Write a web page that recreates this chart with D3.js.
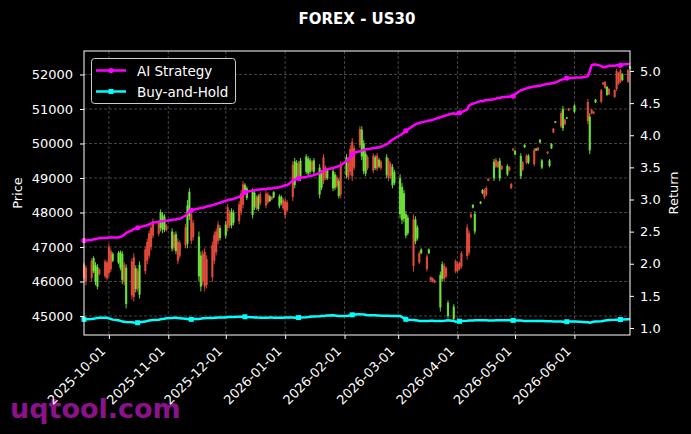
<!DOCTYPE html>
<html>
<head>
<meta charset="utf-8">
<script src="https://cdn.jsdelivr.net/npm/d3@7"></script>
<style>
  body { margin: 0; background: #000; }
  svg text { font-family: "DejaVu Sans", sans-serif; }
</style>
</head>
<body>
<div id="chart"></div>
<script>
// some constants for the page
var width = 691;
var height = 434;
var plotLeft = 84, plotRight = 630, plotTop = 51, plotBottom = 335;

// trading days run from Sep 18 2025 to Jun 30 2026 (weekdays)
var firstDay = '2025-09-18';
var lastDay = '2026-06-30';
var tickDates = ['2025-10-01', '2025-11-01', '2025-12-01', '2026-01-01', '2026-02-01',
                 '2026-03-01', '2026-04-01', '2026-05-01', '2026-06-01'];
var priceTicks = [45000, 46000, 47000, 48000, 49000, 50000, 51000, 52000];
var returnTicks = [1.0, 1.5, 2.0, 2.5, 3.0, 3.5, 4.0, 4.5, 5.0];

// candles (null = no candle drawn)
var priceOpen = [46500,46400,46600,46300,46000,45850,46350,46580,46550,47000,
  46880,46600,46550,46400,46050,46480,45350,46580,46700,45780,
  46300,45620,46930,47150,47400,47560,47750,47700,47550,47500,
  47500,47620,46950,47350,46880,47150,47120,47570,47100,47900,
  47950,47700,46150,45850,46800,46850,46650,47050,47350,47450,
  47650,47260,47330,48150,47980,47620,47700,48240,48550,48820,
  48580,48420,47930,48150,48430,48100,48530,48550,48530,48330,
  48450,48440,48180,48260,48360,48330,48300,49380,48800,49020,
  49420,49000,49180,49130,49180,49470,49180,48520,48720,49600,
  49310,48990,48700,48720,49020,48480,49380,49080,49440,49850,
  50050,49870,50420,49620,49200,49130,49600,49650,49290,49650,
  49330,49470,49080,49500,49400,48790,48850,47950,47780,47820,
  47330,47400,47800,47160,47250,46820,46820,46720,46820,46120,
  46090,46030,45250,46080,46450,46390,45000,44910,46590,46510,
  46540,46820,47560,47400,47950,48140,47450,48260,48560,48650,
  48710,48980,48990,49530,49460,48990,49350,49100,49320,48830,
  49850,49680,49050,49450,49890,49650,49440,49810,49800,49880,
  50030,49300,49760,49350,49860,50430,50600,50880,50440,50690,
  50720,51010,50920,null,null,null,null,51200,49800,50980,
  50920,51190,51540,51770,51780,51410,51580,51550,52100,52040,
  52120,51840,52120,52170];
var priceHigh = [46560,46470,46670,46730,46560,46500,46380,46640,46610,47080,
  46960,46850,46880,46900,46880,46560,46500,46670,46820,46470,
  46380,46580,47020,47250,47480,47660,47830,47780,48090,48010,
  47950,47660,47540,47430,47450,47250,47190,47660,48360,48700,
  48040,47780,47450,46870,46900,46960,46760,47160,47450,47540,
  47750,47630,47750,48240,48070,48120,48070,48330,48650,48910,
  48850,48760,48700,48650,48500,48530,48590,48620,48590,48500,
  48470,48620,48530,48500,48410,48410,48360,49490,49580,49520,
  49490,49580,49690,49630,49580,49520,49580,49400,49230,49690,
  49370,49290,49290,49170,49080,48990,49490,49690,49520,49950,
  50160,49950,50500,50500,50100,49780,49660,49720,49660,49720,
  49580,49520,49690,49580,49460,49400,49230,49110,48850,48650,
  48040,47920,47950,47890,47630,46880,46960,46790,46960,46150,
  46120,46060,46290,46580,46530,46440,45450,45340,46640,46560,
  46580,46880,47660,47480,47980,48240,48040,48330,48680,48700,
  48760,48990,49550,49580,49490,49580,49370,49400,49340,48850,
  49870,49810,49720,49490,49980,49690,49690,49870,49870,49900,
  50130,49550,49780,49550,50010,50450,50650,50940,51090,50710,
  50770,51030,51140,null,null,null,null,51290,50880,51000,
  50940,51290,51580,51780,51810,51670,51610,51580,52160,52070,
  52160,52040,52160,52250];
var priceLow = [46030,45890,46000,46240,45890,45770,46180,46090,46030,46150,
  46270,46560,46500,46320,45920,45890,45220,45480,45420,45680,
  45710,45510,46210,46500,46670,46900,47250,47310,47450,47400,
  47430,47450,46870,46900,46790,46500,46670,46960,46960,47780,
  47080,47190,46000,45710,45890,45710,45800,46000,46500,46760,
  47080,47190,47250,47450,47540,47540,47630,47660,47920,48120,
  48530,48360,47830,48070,48070,48040,48210,48120,48240,48300,
  48360,48410,48120,48210,48070,47830,48010,48330,48700,48940,
  48990,48910,49110,49050,49110,49170,49110,48410,48650,48820,
  48940,48940,48620,48650,48700,48410,48410,48990,48940,49080,
  48910,49230,49870,49520,49110,49050,49230,49140,49230,49200,
  49290,49230,48990,48910,48990,48700,48790,47830,47660,47720,
  47250,47340,46290,47080,47190,46500,46790,46290,46790,46000,
  45970,45950,45130,46000,46000,46090,44930,44840,46240,46270,
  46320,46380,46640,46760,47830,48120,47370,48240,48530,48390,
  48470,48910,48910,49290,49290,48910,49230,49050,49200,48680,
  49780,49660,48970,49200,49870,49400,49400,49340,49780,49780,
  50010,49260,49690,49310,49840,50300,50590,50450,50360,50530,
  50710,50940,50880,null,null,null,null,50560,49690,50850,
  50850,51170,51170,51700,51580,51380,51400,51320,51520,51700,
  51750,51810,51750,52160];
var priceClose = [46100,46000,46100,46680,46480,46420,46220,46150,46100,46250,
  46350,46800,46830,46850,46800,45980,46400,45600,45550,46380,
  45800,46480,46300,46600,46750,47000,47330,47380,48000,47920,
  47880,47490,47450,46980,47370,46600,46750,47050,48200,48600,
  47180,47280,47300,46750,46000,45850,45900,46120,46600,46850,
  47180,47550,47650,47550,47620,48030,47990,47750,48020,48220,
  48800,48700,48600,48570,48130,48470,48270,48200,48300,48470,
  48380,48590,48470,48450,48120,47920,48060,48450,49480,49440,
  49070,49500,49620,49560,49510,49220,49510,49300,49150,48920,
  49000,49230,49200,49100,48760,48920,48520,49600,49020,49180,
  49050,49300,49950,50400,50000,49700,49290,49220,49600,49270,
  49530,49280,49600,49000,49060,49320,49170,48990,48740,48560,
  47950,47850,46450,47800,47570,46550,46930,46360,46930,46030,
  46000,45970,46190,46500,46080,46140,45380,45270,46290,46310,
  46360,46440,46740,46840,47860,48220,47960,48310,48650,48440,
  48520,48920,49470,49330,49320,49500,49250,49350,49220,48700,
  49800,49790,49640,49240,49960,49440,49650,49400,49850,49800,
  50110,49510,49710,49510,49990,50320,50640,50500,51000,50560,
  50760,50960,51100,null,null,null,null,50650,50780,50870,
  50870,51270,51210,51710,51610,51640,51430,51350,51580,51730,
  51790,52010,51790,52240];

// strategy returns (right axis)
var aiReturn = [2.36,2.36,2.37,2.38,2.38,2.39,2.40,2.40,2.40,2.41,
  2.41,2.41,2.41,2.42,2.43,2.45,2.48,2.52,2.54,2.55,
  2.56,2.57,2.59,2.60,2.61,2.63,2.64,2.65,2.66,2.66,
  2.67,2.67,2.68,2.69,2.69,2.70,2.70,2.75,2.78,2.82,
  2.83,2.84,2.86,2.87,2.87,2.88,2.89,2.91,2.92,2.93,
  2.94,2.95,2.98,2.99,3.00,3.00,3.01,3.04,3.06,3.10,
  3.11,3.12,3.14,3.14,3.15,3.15,3.16,3.16,3.17,3.17,
  3.17,3.18,3.19,3.20,3.21,3.22,3.22,3.29,3.31,3.32,
  3.33,3.34,3.35,3.36,3.37,3.37,3.38,3.41,3.43,3.45,
  3.46,3.47,3.49,3.50,3.51,3.52,3.53,3.60,3.63,3.66,
  3.70,3.73,3.75,3.76,3.77,3.78,3.78,3.80,3.80,3.81,
  3.81,3.82,3.86,3.88,3.91,3.93,3.95,4.00,4.02,4.04,
  4.07,4.09,4.15,4.17,4.18,4.19,4.20,4.22,4.23,4.23,
  4.24,4.25,4.28,4.29,4.30,4.31,4.32,4.34,4.33,4.34,
  4.35,4.36,4.40,4.46,4.48,4.49,4.50,4.53,4.53,4.54,
  4.55,4.55,4.56,4.57,4.58,4.58,4.59,4.60,4.60,4.61,
  4.61,4.64,4.70,4.71,4.72,4.73,4.74,4.76,4.76,4.77,
  4.77,4.78,4.80,4.80,4.81,4.81,4.82,4.86,4.87,4.88,
  4.89,4.89,4.89,4.90,4.90,4.90,4.90,4.92,5.00,5.09,
  5.10,5.10,5.08,5.06,5.06,5.07,5.08,5.08,5.09,5.09,
  5.09,5.10,5.11,5.11];
var holdReturn = [1.135,1.136,1.14,1.145,1.15,1.155,1.158,1.16,1.158,1.15,
  1.14,1.13,1.12,1.11,1.10,1.098,1.095,1.09,1.085,1.082,
  1.082,1.09,1.10,1.11,1.115,1.12,1.125,1.13,1.135,1.14,
  1.145,1.15,1.155,1.16,1.16,1.155,1.15,1.145,1.14,1.135,
  1.135,1.14,1.14,1.145,1.15,1.15,1.155,1.155,1.16,1.16,
  1.165,1.165,1.165,1.17,1.17,1.17,1.172,1.175,1.176,1.176,
  1.175,1.17,1.168,1.165,1.165,1.162,1.16,1.16,1.16,1.162,
  1.162,1.16,1.16,1.16,1.16,1.162,1.162,1.162,1.16,1.16,
  1.162,1.165,1.168,1.17,1.175,1.178,1.18,1.182,1.185,1.188,
  1.19,1.195,1.198,1.195,1.19,1.188,1.187,1.187,1.19,1.198,
  1.205,1.21,1.213,1.212,1.21,1.205,1.20,1.20,1.198,1.195,
  1.195,1.192,1.19,1.19,1.188,1.188,1.187,1.187,1.17,1.15,
  1.135,1.13,1.125,1.12,1.115,1.11,1.11,1.11,1.11,1.112,
  1.112,1.11,1.11,1.11,1.112,1.115,1.12,1.11,1.098,1.10,
  1.105,1.11,1.112,1.115,1.115,1.118,1.12,1.12,1.12,1.12,
  1.12,1.118,1.118,1.12,1.12,1.12,1.12,1.12,1.12,1.118,
  1.118,1.118,1.115,1.112,1.11,1.11,1.11,1.109,1.109,1.108,
  1.108,1.108,1.106,1.105,1.104,1.103,1.102,1.10,1.098,1.098,
  1.098,1.10,1.10,1.10,1.098,1.097,1.095,1.09,1.082,1.09,
  1.098,1.10,1.105,1.11,1.115,1.12,1.125,1.128,1.13,1.13,
  1.132,1.133,1.135,1.135];

var markerEvery = 20;

// weekday calendar for the series
var parseDay = d3.utcParse('%Y-%m-%d');
var days = d3.utcDays(parseDay(firstDay), d3.utcDay.offset(parseDay(lastDay), 1))
    .filter(d => d.getUTCDay() !== 0 && d.getUTCDay() !== 6);

var candles = days.map((d, i) => ({date: d, o: priceOpen[i], h: priceHigh[i], l: priceLow[i], c: priceClose[i]}))
    .filter(d => d.o !== null && d.o !== undefined);
var aiData = days.map((d, i) => ({date: d, v: aiReturn[i], i: i}));
var holdData = days.map((d, i) => ({date: d, v: holdReturn[i], i: i}));

// scales
var x = d3.scaleUtc()
    .domain([parseDay(firstDay), parseDay(lastDay)])
    .range([plotLeft, plotRight]);
var yPrice = d3.scaleLinear()
    .domain([44449, 52681])
    .range([plotBottom, plotTop]);
var yReturn = d3.scaleLinear()
    .domain([0.891, 5.311])
    .range([plotBottom, plotTop]);

var svg = d3.select('#chart')
    .append('svg')
    .attr('width', width)
    .attr('height', height);

svg.append('rect')
    .attr('width', width)
    .attr('height', height)
    .attr('fill', '#000');

// watermark behind the tick labels
svg.append('text')
    .attr('x', 10)
    .attr('y', 418)
    .attr('fill', '#8b128b')
    .style('font-size', '27px')
    .style('font-weight', 'bold')
    .text('uqtool.com');

// grid
var grid = svg.append('g');
grid.selectAll('line.h')
    .data(priceTicks)
    .enter()
    .append('line')
    .attr('x1', plotLeft).attr('x2', plotRight)
    .attr('y1', d => yPrice(d)).attr('y2', d => yPrice(d))
    .attr('stroke', '#555')
    .attr('stroke-width', 0.8)
    .attr('stroke-dasharray', '3,2');
grid.selectAll('line.v')
    .data(tickDates)
    .enter()
    .append('line')
    .attr('x1', d => x(parseDay(d))).attr('x2', d => x(parseDay(d)))
    .attr('y1', plotTop).attr('y2', plotBottom)
    .attr('stroke', '#555')
    .attr('stroke-width', 0.8)
    .attr('stroke-dasharray', '3,2');

// candles
var upColor = '#72ee3a';
var downColor = '#ec4f3f';
var candleGroup = svg.append('g');
candleGroup.selectAll('line')
    .data(candles)
    .enter()
    .append('line')
    .attr('x1', d => x(d.date)).attr('x2', d => x(d.date))
    .attr('y1', d => yPrice(d.h)).attr('y2', d => yPrice(d.l))
    .attr('stroke', d => d.c >= d.o ? upColor : downColor)
    .attr('stroke-width', 1)
    .attr('opacity', 0.9);
candleGroup.selectAll('rect')
    .data(candles)
    .enter()
    .append('rect')
    .attr('x', d => x(d.date) - 1.1)
    .attr('width', 2.2)
    .attr('y', d => yPrice(Math.max(d.o, d.c)))
    .attr('height', d => Math.max(1, Math.abs(yPrice(d.o) - yPrice(d.c))))
    .attr('fill', d => d.c >= d.o ? upColor : downColor)
    .attr('opacity', 0.85);

// return lines
var returnLine = d3.line().x(d => x(d.date)).y(d => yReturn(d.v));

svg.append('path')
    .datum(holdData)
    .attr('d', returnLine)
    .attr('fill', 'none')
    .attr('stroke', '#00ffff')
    .attr('stroke-width', 2.5);
svg.selectAll('rect.holdMark')
    .data(holdData.filter(d => d.i % markerEvery === 0))
    .enter()
    .append('rect')
    .attr('x', d => x(d.date) - 2.5)
    .attr('y', d => yReturn(d.v) - 2.5)
    .attr('width', 5)
    .attr('height', 5)
    .attr('fill', '#00ffff');

svg.append('path')
    .datum(aiData)
    .attr('d', returnLine)
    .attr('fill', 'none')
    .attr('stroke', '#ff00ff')
    .attr('stroke-width', 2.5);
svg.selectAll('circle.aiMark')
    .data(aiData.filter(d => d.i % markerEvery === 0))
    .enter()
    .append('circle')
    .attr('cx', d => x(d.date))
    .attr('cy', d => yReturn(d.v))
    .attr('r', 2.6)
    .attr('fill', '#ff00ff');

// frame
svg.append('rect')
    .attr('x', plotLeft)
    .attr('y', plotTop)
    .attr('width', plotRight - plotLeft)
    .attr('height', plotBottom - plotTop)
    .attr('fill', 'none')
    .attr('stroke', '#fff')
    .attr('stroke-width', 1);

// axes
var leftAxis = svg.append('g')
    .attr('transform', 'translate(' + plotLeft + ',0)')
    .call(d3.axisLeft(yPrice).tickValues(priceTicks).tickSize(4).tickPadding(7).tickFormat(d3.format('d')));
var rightAxis = svg.append('g')
    .attr('transform', 'translate(' + plotRight + ',0)')
    .call(d3.axisRight(yReturn).tickValues(returnTicks).tickSize(4).tickPadding(6).tickFormat(d3.format('.1f')));
var bottomAxis = svg.append('g')
    .attr('transform', 'translate(0,' + plotBottom + ')')
    .call(d3.axisBottom(x).tickValues(tickDates.map(parseDay)).tickSize(4).tickFormat(d3.utcFormat('%Y-%m-%d')));

[leftAxis, rightAxis, bottomAxis].forEach(function(a) {
    a.select('.domain').remove();
    a.selectAll('line').attr('stroke', '#fff');
    a.selectAll('text').attr('fill', '#fff').style('font-size', '13px');
});

bottomAxis.selectAll('text')
    .attr('text-anchor', 'end')
    .attr('dy', null)
    .attr('y', 0)
    .attr('transform', 'translate(-3,17) rotate(-45)');

// axis titles
svg.append('text')
    .attr('transform', 'translate(22,193) rotate(-90)')
    .attr('text-anchor', 'middle')
    .attr('fill', '#fff')
    .style('font-size', '13px')
    .text('Price');

svg.append('text')
    .attr('transform', 'translate(678,193) rotate(-90)')
    .attr('text-anchor', 'middle')
    .attr('fill', '#fff')
    .style('font-size', '13px')
    .text('Return');

svg.append('text')
    .attr('x', (plotLeft + plotRight) / 2)
    .attr('y', 24)
    .attr('text-anchor', 'middle')
    .attr('fill', '#fff')
    .style('font-size', '15px')
    .style('font-weight', 'bold')
    .text('FOREX - US30');

// legend
var legend = svg.append('g');
legend.append('rect')
    .attr('x', 91.5)
    .attr('y', 58.5)
    .attr('width', 144)
    .attr('height', 45)
    .attr('rx', 3)
    .attr('fill', '#000')
    .attr('stroke', '#cccccc')
    .attr('stroke-width', 1);

var legendItems = [
    {label: 'AI Strategy', color: '#ff00ff', shape: 'circle'},
    {label: 'Buy-and-Hold', color: '#00ffff', shape: 'square'}
];
legendItems.forEach(function(item, i) {
    var ly = 70.5 + i * 21;
    legend.append('line')
        .attr('x1', 96).attr('x2', 126)
        .attr('y1', ly).attr('y2', ly)
        .attr('stroke', item.color)
        .attr('stroke-width', 2.5);
    if (item.shape === 'circle') {
        legend.append('circle').attr('cx', 111).attr('cy', ly).attr('r', 2.6).attr('fill', item.color);
    } else {
        legend.append('rect').attr('x', 108.5).attr('y', ly - 2.5).attr('width', 5).attr('height', 5).attr('fill', item.color);
    }
    legend.append('text')
        .attr('x', 137)
        .attr('y', ly + 5)
        .attr('fill', '#fff')
        .style('font-size', '13.5px')
        .text(item.label);
});
</script>
</body>
</html>
